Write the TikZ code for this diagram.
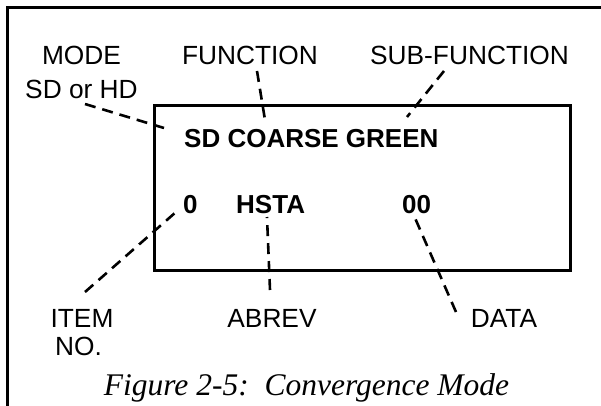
\documentclass[tikz,border=0pt]{standalone}
\usepackage{fontspec}
\setmainfont{Liberation Sans}
\newfontfamily\capfont{Liberation Serif}
\begin{document}
\begin{tikzpicture}[x=1pt,y=-1pt,
  label/.style={anchor=base,inner sep=0pt,font=\fontsize{26.3}{30}\selectfont},
  value/.style={anchor=base west,inner sep=0pt,font=\fontsize{26}{30}\selectfont\bfseries},
  leader/.style={line width=2.6pt,dash pattern=on 11pt off 7pt},
  frame/.style={line width=3pt}]
\useasboundingbox (0,0) rectangle (601,406);

% outer frame: top and left edges only
\draw[frame] (7.5,420) -- (7.5,7.5) -- (620,7.5);

% display window
\node[frame,draw,minimum width=416pt,minimum height=164pt,inner sep=0pt] (screen) at (362,188) {};

% display contents
\node[value] (sd)   at (184,147) {SD COARSE GREEN};
\node[value] (item) at (183,213) {0};
\node[value] (abr)  at (236,213) {HSTA};
\node[value] (dat)  at (402,213) {00};

% field names
\node[label] (mode)  at (81.5,65) {MODE};
\node[label] (mode2) at (81.5,99) {SD or HD};
\node[label] (func)  at (250,65) {FUNCTION};
\node[label] (sub)   at (469.5,65) {SUB-FUNCTION};
\node[label] (itm)   at (82,327) {ITEM};
\node[label] (itm2)  at (78.5,355) {NO.};
\node[label] (abrev) at (272,327) {ABREV};
\node[label] (data)  at (504,327) {DATA};

% leader ends
\coordinate (m1) at (85,104);   \coordinate (m2) at (164,128);
\coordinate (f1) at (257,71);   \coordinate (f2) at (265,120);
\coordinate (s1) at (444,71);   \coordinate (s2) at (407,117);
\coordinate (i1) at (85,292);   \coordinate (i2) at (176,212);
\coordinate (a1) at (270,290);  \coordinate (a2) at (267,217);
\coordinate (d1) at (456,312);  \coordinate (d2) at (415,218);

\draw[leader] (m1) -- (m2);
\draw[leader] (f1) -- (f2);
\draw[leader] (s1) -- (s2);
\draw[leader] (i1) -- (i2);
\draw[leader] (a1) -- (a2);
\draw[leader] (d1) -- (d2);

% caption
\node[anchor=base,inner sep=0pt,font=\capfont\itshape\fontsize{31.5}{34}\selectfont] (cap) at (306.5,395) {Figure 2-5:\ \ Convergence Mode};
\end{tikzpicture}
\end{document}
